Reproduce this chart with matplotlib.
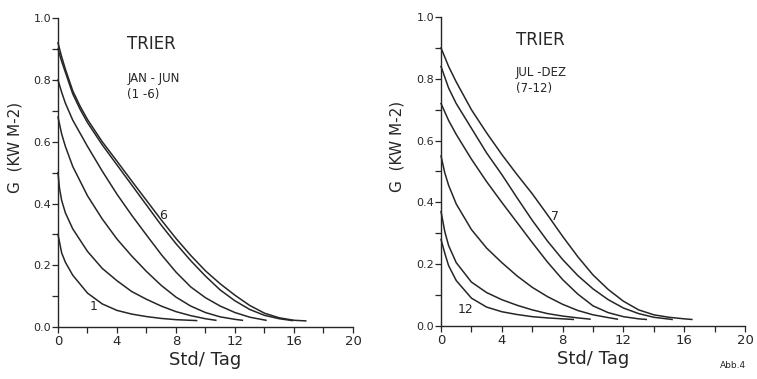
import numpy as np
import matplotlib
matplotlib.use("Agg")
import matplotlib.pyplot as plt
from matplotlib.ticker import MultipleLocator

# Data (G in kW m-2 vs hours per day)
# Jan - Jun
h_jan = [0, 0.25, 0.5, 1, 2, 3, 4, 5, 6, 7, 8, 9.4]
g_jan = [0.30, 0.24, 0.21, 0.168, 0.11, 0.075, 0.054, 0.042, 0.034, 0.028, 0.024, 0.021]
h_feb = [0, 0.1, 0.25, 0.5, 1, 2, 3, 4, 5, 6, 7, 8, 9, 10, 10.7]
g_feb = [0.50, 0.45, 0.41, 0.37, 0.318, 0.245, 0.19, 0.15, 0.115, 0.09, 0.068, 0.05, 0.037, 0.027, 0.022]
h_mar = [0, 0.25, 0.5, 1, 2, 3, 4, 5, 6, 7, 8, 9, 10, 11, 12, 12.5]
g_mar = [0.68, 0.625, 0.585, 0.52, 0.425, 0.35, 0.285, 0.23, 0.18, 0.135, 0.097, 0.068, 0.047, 0.033, 0.025, 0.022]
h_apr = [0, 0.25, 0.5, 1, 2, 3, 4, 5, 6, 7, 8, 9, 10, 11, 12, 13, 14.1]
g_apr = [0.80, 0.76, 0.725, 0.67, 0.585, 0.505, 0.43, 0.362, 0.298, 0.235, 0.178, 0.13, 0.095, 0.068, 0.047, 0.032, 0.022]
h_may = [0, 0.25, 0.5, 1, 1.5, 2, 3, 4, 5, 6, 7, 8, 9, 10, 11, 12, 13, 14, 15, 15.9]
g_may = [0.90, 0.86, 0.825, 0.755, 0.705, 0.662, 0.59, 0.525, 0.46, 0.395, 0.33, 0.27, 0.215, 0.165, 0.12, 0.085, 0.057, 0.038, 0.027, 0.021]
h_jun = [0, 0.25, 0.5, 1, 1.5, 2, 3, 4, 5, 6, 7, 8, 9, 10, 11, 12, 13, 14, 15, 16, 16.8]
g_jun = [0.92, 0.875, 0.835, 0.765, 0.715, 0.672, 0.60, 0.537, 0.473, 0.41, 0.347, 0.287, 0.232, 0.182, 0.14, 0.103, 0.07, 0.045, 0.03, 0.022, 0.02]

# Jul - Dez
h_jul = [0, 0.5, 1, 2, 3, 4, 5, 6, 7, 8, 9, 10, 11, 12, 13, 14, 15, 16, 16.5]
g_jul = [0.90, 0.84, 0.79, 0.70, 0.625, 0.555, 0.49, 0.428, 0.36, 0.29, 0.224, 0.165, 0.118, 0.08, 0.052, 0.036, 0.028, 0.023, 0.021]
h_aug = [0, 0.5, 1, 2, 3, 4, 5, 6, 7, 8, 9, 10, 11, 12, 13, 14, 15.2]
g_aug = [0.84, 0.77, 0.72, 0.64, 0.56, 0.49, 0.415, 0.342, 0.275, 0.215, 0.163, 0.12, 0.085, 0.058, 0.04, 0.028, 0.021]
h_sep = [0, 0.5, 1, 2, 3, 4, 5, 6, 7, 8, 9, 10, 11, 12, 13, 13.5]
g_sep = [0.72, 0.665, 0.62, 0.54, 0.467, 0.4, 0.335, 0.27, 0.207, 0.15, 0.103, 0.065, 0.043, 0.03, 0.023, 0.021]
h_oct = [0, 0.25, 0.5, 1, 2, 3, 4, 5, 6, 7, 8, 9, 10, 11, 11.6]
g_oct = [0.55, 0.495, 0.455, 0.395, 0.312, 0.252, 0.205, 0.162, 0.125, 0.095, 0.07, 0.05, 0.036, 0.027, 0.022]
h_nov = [0, 0.25, 0.5, 1, 2, 3, 4, 5, 6, 7, 8, 9, 9.8]
g_nov = [0.37, 0.305, 0.26, 0.205, 0.142, 0.108, 0.085, 0.067, 0.052, 0.04, 0.032, 0.026, 0.022]
h_dec = [0, 0.25, 0.5, 1, 2, 3, 4, 5, 6, 7, 8, 8.7]
g_dec = [0.28, 0.235, 0.195, 0.147, 0.09, 0.061, 0.046, 0.037, 0.03, 0.026, 0.023, 0.021]

x_ticks = [0, 4, 8, 12, 16, 20]
y_ticks = [0.0, 0.2, 0.4, 0.6, 0.8, 1.0]

ink = "#262626"
plt.rcParams['font.family'] = ['DejaVu Sans']

fig = plt.figure(figsize=(7.57, 3.79), dpi=100)
ax1 = fig.add_axes([0.0766, 0.137, 0.3897, 0.815])
ax2 = fig.add_axes([0.5826, 0.140, 0.4016, 0.815])


def style(ax):
    ax.set_xlim(0, 20)
    ax.set_ylim(0, 1.0)
    for s in ["top", "right"]:
        ax.spines[s].set_visible(False)
    for s in ["left", "bottom"]:
        ax.spines[s].set_color(ink)
        ax.spines[s].set_linewidth(1.0)
    ax.set_xticks(x_ticks)
    ax.set_yticks(y_ticks)
    ax.set_yticklabels(["%.1f" % v for v in y_ticks])
    ax.xaxis.set_minor_locator(MultipleLocator(2))
    ax.yaxis.set_minor_locator(MultipleLocator(0.1))
    ax.tick_params(which="both", direction="out", color=ink, width=0.9, length=4)
    ax.tick_params(axis="y", labelsize=8, pad=1, labelcolor=ink)
    ax.tick_params(axis="x", labelsize=9.5, pad=2, labelcolor=ink)
    ax.set_xlabel("Std/ Tag", fontsize=13, color=ink, labelpad=2)
    ax.set_ylabel("G  (KW M-2)", fontsize=11, color=ink)
    ax.yaxis.set_label_coords(-0.12, 0.58)


style(ax1)
style(ax2)

for h, g in [(h_jan, g_jan), (h_feb, g_feb), (h_mar, g_mar),
             (h_apr, g_apr), (h_may, g_may), (h_jun, g_jun)]:
    ax1.plot(h, g, color=ink, lw=1.1, clip_on=False)

for h, g in [(h_jul, g_jul), (h_aug, g_aug), (h_sep, g_sep),
             (h_oct, g_oct), (h_nov, g_nov), (h_dec, g_dec)]:
    ax2.plot(h, g, color=ink, lw=1.1, clip_on=False)

ax1.text(4.7, 0.945, "TRIER", fontsize=12, color=ink, va="top")
ax1.text(4.7, 0.825, "JAN - JUN", fontsize=8.5, color=ink, va="top")
ax1.text(4.7, 0.775, "(1 -6)", fontsize=8.5, color=ink, va="top")
ax1.text(7.1, 0.36, "6", fontsize=9, color=ink, ha="center", va="center")
ax1.text(2.4, 0.065, "1", fontsize=9, color=ink, ha="center", va="center")

ax2.text(4.9, 0.955, "TRIER", fontsize=12, color=ink, va="top")
ax2.text(4.9, 0.84, "JUL -DEZ", fontsize=8.5, color=ink, va="top")
ax2.text(4.9, 0.79, "(7-12)", fontsize=8.5, color=ink, va="top")
ax2.text(7.5, 0.353, "7", fontsize=9, color=ink, ha="center", va="center")
ax2.text(1.6, 0.052, "12", fontsize=9, color=ink, ha="center", va="center")

fig.text(0.968, 0.035, "Abb.4", fontsize=6.5, color=ink, ha="center", va="center")

fig.savefig("out.png", dpi=100, facecolor="white")
